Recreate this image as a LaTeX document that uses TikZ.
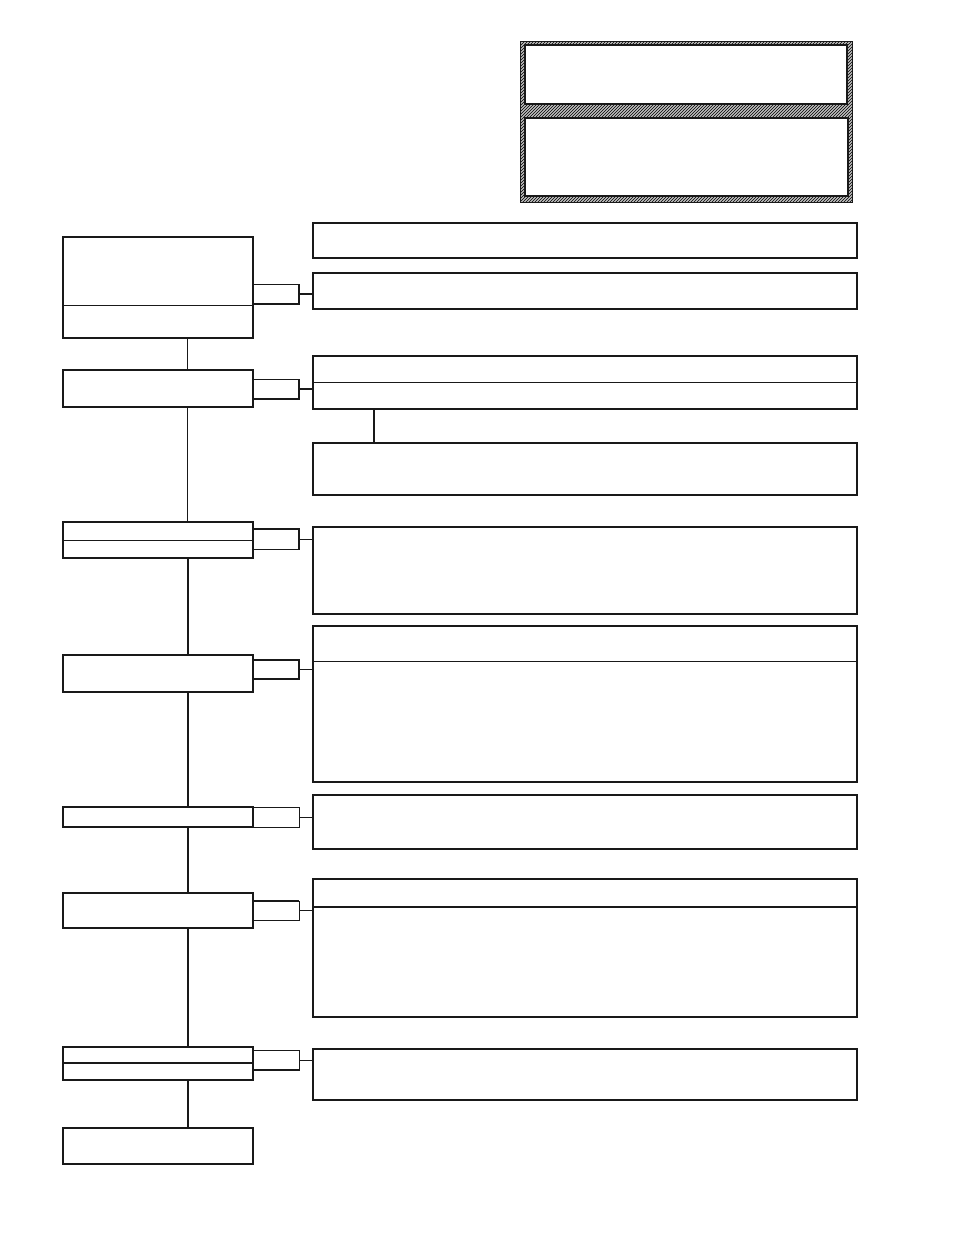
\documentclass[tikz,border=0pt]{standalone}
\usetikzlibrary{patterns}
\begin{document}
\begin{tikzpicture}[x=1pt,y=-1pt,
  box/.style={draw=black!90, line width=1.6pt, inner sep=0pt, outer sep=0pt, anchor=north west, fill=white},
  lbox/.style={box, minimum width=190pt},
  rbox/.style={box, minimum width=544pt},
  cbox/.style={draw=black!90, line width=1pt, inner sep=0pt, outer sep=0pt, anchor=north west, minimum width=46pt},
  thinln/.style={draw=black!90, line width=0.9pt},
  thickln/.style={draw=black!90, line width=1.6pt}]
\useasboundingbox[fill=white] (0,0) rectangle (954,1235);
% hatched legend frame
\node[draw=black!90, line width=1pt, preaction={fill=black!25}, pattern=north east lines, inner sep=0pt, outer sep=0pt, anchor=north west,
  minimum width=332pt, minimum height=161pt] (HF) at (520,41) {};
\node[box, minimum width=322pt, minimum height=59pt] (H1) at (525,45) {};
\node[box, minimum width=323pt, minimum height=78pt] (H2) at (525,118) {};
% spine coordinates
\coordinate (spine) at (187,0);
\coordinate (spineb) at (188,0);
% left column
\node[lbox, minimum height=101pt] (B1) at (63,237) {};
\node[lbox, minimum height=37pt] (B2) at (63,370) {};
\node[lbox, minimum height=36pt] (B3) at (63,522) {};
\node[lbox, minimum height=37pt] (B4) at (63,655) {};
\node[lbox, minimum height=20pt] (B5) at (63,807) {};
\node[lbox, minimum height=35pt] (B6) at (63,893) {};
\node[lbox, minimum height=33pt] (B7) at (63,1047) {};
\node[lbox, minimum height=36pt, line width=1.2pt] (B8) at (63,1128) {};
% dividers in left boxes
\draw[thinln] (B1.west |- 0,305) -- (B1.east |- 0,305);
\draw[thinln] (B3.west |- 0,540) -- (B3.east |- 0,540);
\draw[thickln] (B7.west |- 0,1063) -- (B7.east |- 0,1063);
% right column
\node[rbox, minimum height=35pt] (R1a) at (313,223) {};
\node[rbox, minimum height=36pt] (R1b) at (313,273) {};
\node[rbox, minimum height=53pt] (R2) at (313,356) {};
\node[rbox, minimum height=52pt] (R3) at (313,443) {};
\node[rbox, minimum height=87pt] (R4) at (313,527) {};
\node[rbox, minimum height=156pt] (R5) at (313,626) {};
\node[rbox, minimum height=54pt] (R6) at (313,795) {};
\node[rbox, minimum height=138pt] (R7) at (313,879) {};
\node[rbox, minimum height=51pt] (R8) at (313,1049) {};
% dividers in right boxes
\draw[thinln] (R2.west |- 0,382) -- (R2.east |- 0,382);
\draw[thinln] (R5.west |- 0,661) -- (R5.east |- 0,661);
\draw[thickln] (R7.west |- 0,907) -- (R7.east |- 0,907);
% small connector boxes
\node[cbox, minimum height=20pt] (C1) at (253,284) {};
\node[cbox, minimum height=20pt] (C2) at (253,379) {};
\node[cbox, minimum height=20pt] (C3) at (253,529) {};
\node[cbox, minimum height=19pt] (C4) at (253,660) {};
\node[cbox, minimum height=20pt] (C5) at (253,807) {};
\node[cbox, minimum height=19pt] (C6) at (253,901) {};
\node[cbox, minimum height=20pt] (C7) at (253,1050) {};
% heavier edges of some connector boxes
\draw[thickln] (C1.south west) -- (C1.south east) -- (C1.north east);
\draw[thickln] (C2.south west) -- (C2.south east) -- (C2.north east);
\draw[thickln] (C3.north west) -- (C3.north east) -- (C3.south east);
\draw[thickln] (C4.north west) -- (C4.north east) -- (C4.south east) -- (C4.south west);
\draw[thickln] (C6.north west) -- (C6.north east);
\draw[thickln] (C7.south west) -- (C7.south east);
% horizontal connectors
\draw[thickln] (C1.east) -- (R1b.west |- C1.east);
\draw[thickln] (C2.east) -- (R2.west |- C2.east);
\draw[thinln] (C3.east) -- (R4.west |- C3.east);
\draw[thinln] (C4.east) -- (R5.west |- C4.east);
\draw[thinln] (C5.east) -- (R6.west |- C5.east);
\draw[thinln] (C6.east) -- (R7.west |- C6.east);
\draw[thinln] (C7.east) -- (R8.west |- C7.east);
% spine
\draw[thinln] (B1.south -| spine) -- (B2.north -| spine);
\draw[thinln] (B2.south -| spine) -- (B3.north -| spine);
\draw[thickln] (B3.south -| spineb) -- (B4.north -| spineb);
\draw[thickln] (B4.south -| spineb) -- (B5.north -| spineb);
\draw[thickln] (B5.south -| spineb) -- (B6.north -| spineb);
\draw[thickln] (B6.south -| spineb) -- (B7.north -| spineb);
\draw[thickln] (B7.south -| spineb) -- (B8.north -| spineb);
% R2 to R3
\coordinate (rlink) at (374,0);
\draw[thickln] (R2.south -| rlink) -- (R3.north -| rlink);
\end{tikzpicture}
\end{document}
